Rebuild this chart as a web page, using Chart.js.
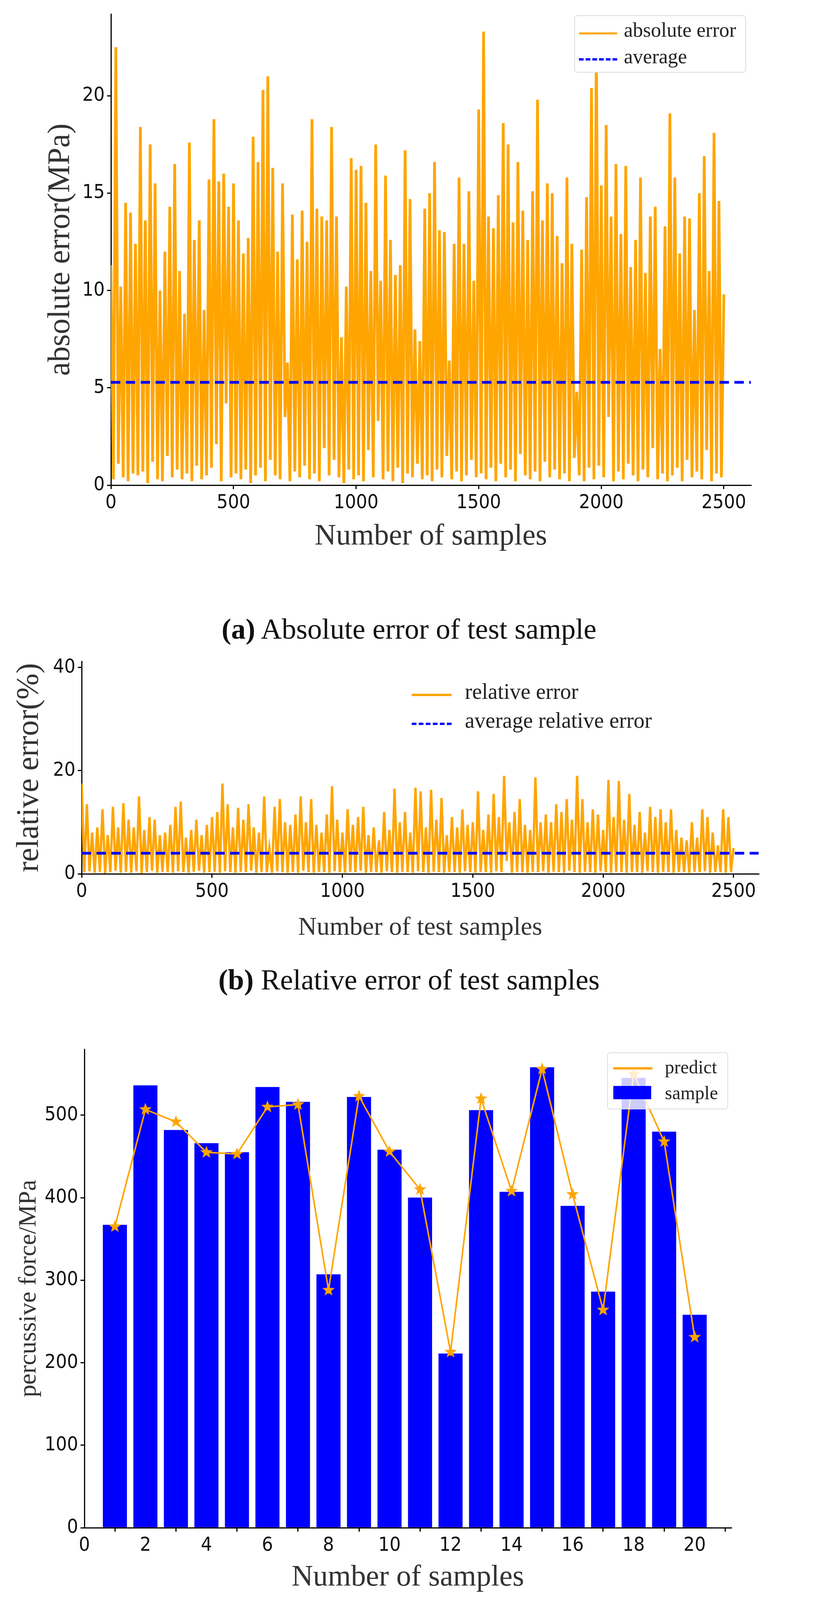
<!DOCTYPE html>
<html>
<head>
<meta charset="utf-8">
<script src="https://cdn.jsdelivr.net/npm/chart.js@4"></script>
<style>
body{margin:0;background:#fff;width:2094px;height:4252px;position:relative;overflow:hidden;font-family:'Liberation Serif',serif;}
canvas{position:absolute;left:0;}
.cap{position:absolute;left:0;width:2094px;text-align:center;font-size:74px;line-height:80px;color:#111;}
.leg{position:absolute;font-family:'Liberation Serif',serif;color:#222;}
.row{position:absolute;white-space:nowrap;}
.ln{position:absolute;height:0;}
</style>
</head>
<body>
<canvas id="cA"></canvas>
<canvas id="cB"></canvas>
<canvas id="cC"></canvas>

<div class="cap" style="top:1570px"><b>(a)</b> Absolute error of test sample</div>
<div class="cap" style="top:2468px"><b>(b)</b> Relative error of test samples</div>
<div class="cap" style="top:4150px"><b>(c)</b> Comparison of predicted values of 20 random samples</div>

<div class="leg" style="left:1470px;top:39px;width:436px;height:143px;border:2px solid #ddd;border-radius:8px;font-size:52px;background:#fff;">
  <div class="ln" style="left:10px;top:42px;width:98px;border-top:5px solid #FFA500"></div>
  <div class="row" style="left:125px;top:6px">absolute error</div>
  <div class="ln" style="left:10px;top:108px;width:98px;border-top:6px dashed #0000ff"></div>
  <div class="row" style="left:125px;top:74px">average</div>
</div>

<div class="leg" style="left:1050px;top:1730px;font-size:56px;">
  <div class="ln" style="left:4px;top:46px;width:102px;border-top:6px solid #FFA500"></div>
  <div class="row" style="left:140px;top:8px">relative error</div>
  <div class="ln" style="left:4px;top:120px;width:102px;border-top:6px dashed #0000ff"></div>
  <div class="row" style="left:140px;top:82px">average relative error</div>
</div>

<div class="leg" style="left:1554px;top:2694px;width:306px;height:142px;border:2px solid #ddd;border-radius:8px;font-size:48px;background:rgba(255,255,255,0.8);">
  <div class="ln" style="left:14px;top:36px;width:100px;border-top:6px solid #FFA500"></div>
  <div class="row" style="left:146px;top:8px">predict</div>
  <div style="position:absolute;left:14px;top:84px;width:97px;height:34px;background:#0000ff"></div>
  <div class="row" style="left:146px;top:74px">sample</div>
</div>

<script>
// ---------- panel (a) absolute error, one value every 10 samples ----------
const absError = [
 11.3,0.3,22.5,1.1,10.2,0.4,14.5,0.2,14.0,0.6,
 12.4,0.5,18.4,0.7,13.6,0.1,17.5,1.2,15.5,0.3,
 10.0,0.2,12.0,1.5,14.3,0.4,16.5,0.8,11.0,0.3,
 8.8,0.6,17.6,0.2,12.6,1.0,13.6,0.3,9.0,0.5,
 15.7,0.9,18.8,2.1,15.6,0.2,16.0,4.2,14.3,0.4,
 15.5,0.6,13.6,0.3,11.9,0.8,12.7,0.1,17.9,0.5,
 16.6,0.9,20.3,0.2,21.0,1.3,16.3,0.5,12.0,0.3,
 15.5,3.5,6.3,0.2,13.9,0.7,11.6,0.4,14.1,1.0,
 12.5,0.3,18.8,0.6,14.2,0.2,13.8,1.9,13.6,0.5,
 18.4,1.3,13.8,0.4,7.6,0.1,10.2,0.8,16.8,0.3,
 16.2,0.5,16.4,0.2,14.5,1.8,11.0,0.4,17.5,3.3,
 10.5,0.3,15.9,0.7,12.6,0.2,10.8,0.9,11.3,0.1,
 17.2,0.6,14.7,0.4,8.0,1.1,7.4,0.3,14.2,0.5,
 15.0,0.2,16.6,0.8,13.1,0.4,13.0,1.5,6.4,0.3,
 12.4,0.7,15.8,0.2,12.4,0.5,15.1,1.3,10.5,0.4,
 19.3,0.6,23.3,0.3,13.8,0.9,13.2,0.2,14.9,1.1,
 18.6,0.4,17.5,0.8,13.5,0.2,16.6,1.6,14.1,0.5,
 12.6,0.3,15.1,0.7,19.8,0.2,13.6,1.2,15.5,0.4,
 15.0,0.8,12.8,0.3,11.4,0.6,15.8,0.2,12.4,1.4,
 4.8,0.5,12.1,0.2,14.8,0.9,20.4,0.3,22.8,1.0,
 15.4,0.4,18.5,3.5,13.8,0.2,16.5,0.7,12.9,0.3,
 16.4,1.1,11.2,0.5,12.6,0.2,15.8,0.8,10.9,0.4,
 13.8,1.9,14.3,0.3,7.0,0.6,13.3,0.2,19.1,0.5,
 15.8,0.9,11.9,0.2,13.8,1.3,13.7,0.4,9.0,0.7,
 15.0,0.3,16.9,1.8,11.0,0.2,18.1,0.6,14.6,0.4,
 9.8
];
const absAverage = 5.28;
const absXTicks = [0,500,1000,1500,2000,2500];
const absYTicks = [0,5,10,15,20];

// ---------- panel (b) relative error (%) ----------
const relError = [
 17.5,0.3,13.5,0.5,8.0,0.2,9.0,0.4,12.5,0.1,
 7.5,0.3,13.0,0.6,9.0,0.2,13.7,0.4,10.5,0.2,
 9.0,0.5,15.0,0.1,8.5,0.3,11.0,0.6,10.5,0.2,
 7.5,0.4,8.0,0.3,9.5,0.2,13.0,0.5,14.0,0.3,
 7.0,0.2,8.5,0.4,10.5,0.6,7.5,0.2,9.5,0.3,
 11.0,0.4,12.0,0.2,17.5,0.5,13.5,0.3,9.0,0.2,
 12.8,0.4,10.5,0.3,13.5,0.6,9.0,0.2,8.0,0.4,
 15.0,0.3,5.0,0.2,13.0,0.5,14.5,0.3,10.0,0.2,
 9.5,0.4,11.5,0.2,15.0,0.6,10.0,0.3,14.5,0.2,
 9.5,0.4,8.0,0.3,11.5,0.2,17.0,0.5,10.5,0.3,
 8.0,0.2,12.5,0.4,9.5,0.3,11.0,0.6,13.0,0.2,
 7.5,0.4,9.0,0.3,6.5,0.2,12.0,0.5,8.5,0.3,
 16.5,0.2,10.0,0.4,12.0,0.3,8.0,0.2,16.7,0.5,
 16.0,0.3,9.0,0.2,16.3,0.4,10.5,0.3,14.7,0.2,
 7.5,0.4,11.0,0.3,9.0,0.2,12.5,0.5,9.5,0.3,
 10.0,0.2,16.0,0.4,8.5,0.3,11.5,0.2,15.5,0.5,
 11.0,0.3,19.0,2.5,10.0,0.2,12.0,0.4,14.5,0.3,
 9.5,0.2,8.5,0.4,18.7,0.3,10.0,0.5,11.5,0.2,
 10.0,0.4,13.5,0.3,12.0,0.2,14.5,0.6,10.5,0.3,
 19.0,0.2,14.5,0.4,10.0,0.3,12.5,0.2,11.5,0.5,
 8.5,0.3,18.2,0.2,11.0,0.4,18.0,0.3,10.5,0.2,
 15.5,0.4,9.5,0.3,12.0,0.2,8.0,0.5,13.0,0.3,
 11.0,0.2,12.5,0.4,10.0,0.3,12.5,0.2,8.5,0.4,
 7.0,0.3,6.5,0.2,10.0,0.4,7.0,0.3,12.5,0.5,
 11.0,0.2,8.0,0.4,5.5,0.3,12.5,0.2,11.0,0.4,
 5.0
];
const relAverage = 4.0;
const relXTicks = [0,500,1000,1500,2000,2500];
const relYTicks = [0,20,40];

// ---------- panel (c) 20 random samples ----------
const sampleIds = [1,2,3,4,5,6,7,8,9,10,11,12,13,14,15,16,17,18,19,20];
const sampleValues = [367,536,482,466,455,534,516,307,522,458,400,211,506,407,558,390,286,545,480,258];
const predictValues = [365,507,492,455,453,510,513,288,523,456,410,213,520,408,556,404,264,550,468,231];
const cmpXTicks = [0,2,4,6,8,10,12,14,16,18,20];
const cmpYTicks = [0,100,200,300,400,500];

const STEP = 10;
const ORANGE = '#FFA500';
const BLUE = '#0000ff';
const tickFont = {family: "'Liberation Sans Narrow','DejaVu Sans Condensed',sans-serif", size: 50};
const serif = "'Liberation Serif',serif";

function toXY(arr){ return arr.map((v,i)=>({x:i*STEP, y:v})); }

function axis(min, max, ticks){
    return {
        type:'linear', min:min, max:max, offset:false,
        border: {display:true, color:'#000', width:3},
        grid: {display:true, drawOnChartArea:false, drawTicks:true, tickLength:10, color:'#000', lineWidth:3},
        ticks: {color:'#111', font:tickFont, padding:6, maxRotation:0, autoSkip:false, callback: v => String(v)},
        afterBuildTicks: s => { s.ticks = ticks.map(v=>({value:v})); }
    };
}

// p: {top, height, padLeft, area:{left,right,top,bottom}}
function makePanel(id, p, datasets, x, y, yTitle, xTitle, xSize, ySize){
    const cv = document.getElementById(id);
    cv.style.top = p.top + 'px';
    cv.width = 2094; cv.height = p.height;
    cv.style.width = '2094px'; cv.style.height = p.height + 'px';
    x.title = {display:true, text:xTitle, color:'#333', font:{family:serif, size:xSize}, padding:0};
    x.afterFit = s => { s.height = p.height - (p.area.bottom - p.top); };
    y.title = {display:true, text:yTitle, color:'#333', font:{family:serif, size:ySize}, padding:0};
    y.afterFit = s => { s.width = p.area.left - p.padLeft; };
    return new Chart(cv.getContext('2d'), {
        type: 'line',
        data: {datasets: datasets},
        options: {
            responsive:false, animation:false, devicePixelRatio:1,
            layout:{padding:{top: p.area.top - p.top, right: 2094 - p.area.right, left:p.padLeft, bottom:0}},
            plugins:{legend:{display:false}, tooltip:{enabled:false}},
            scales:{x:x, y:y}
        }
    });
}

// (a)
makePanel('cA', {top:0, height:1420, padLeft:108, area:{left:284, right:1922, top:28, bottom:1242}}, [
    {data:toXY(absError), borderColor:ORANGE, borderWidth:7, pointRadius:0, tension:0, order:1},
    {data:[{x:0,y:absAverage},{x:2610,y:absAverage}], borderColor:BLUE, borderWidth:7, borderDash:[24,14], pointRadius:0, order:0}
], axis(0, 2610, absXTicks), axis(0, 24.2, absYTicks),
   'absolute error(MPa)', 'Number of samples', 76, 80);

// (b)
makePanel('cB', {top:1600, height:815, padLeft:28, area:{left:209, right:1942, top:1693, bottom:2237}}, [
    {data:toXY(relError), borderColor:ORANGE, borderWidth:6, pointRadius:0, tension:0, order:1},
    {data:[{x:0,y:relAverage},{x:2600,y:relAverage}], borderColor:BLUE, borderWidth:7, borderDash:[24,14], pointRadius:0, order:0}
], axis(0, 2596, relXTicks), axis(0, 41.2, relYTicks),
   'relative error(%)', 'Number of test samples', 66, 80);

// (c) star marker
const star = document.createElement('canvas');
star.width = 36; star.height = 36;
(function(){
    const g = star.getContext('2d');
    g.fillStyle = ORANGE;
    g.beginPath();
    for (let i=0;i<10;i++){
        const r = i%2===0 ? 17 : 7;
        const a = -Math.PI/2 + i*Math.PI/5;
        g.lineTo(18 + r*Math.cos(a), 18 + r*Math.sin(a));
    }
    g.closePath(); g.fill();
})();

makePanel('cC', {top:2650, height:1435, padLeft:36, area:{left:216, right:1872, top:2684, bottom:3911}}, [
    {type:'line', data:sampleIds.map((k,i)=>({x:k,y:predictValues[i]})), borderColor:ORANGE, borderWidth:4,
     pointStyle:star, pointRadius:17, tension:0, order:0},
    {type:'bar', data:sampleIds.map((k,i)=>({x:k,y:sampleValues[i]})), backgroundColor:BLUE, barThickness:61, order:1}
], axis(0, 21.2, cmpXTicks), axis(0, 580, cmpYTicks),
   'percussive force/MPa', 'Number of samples', 76, 64);
</script>
</body>
</html>
